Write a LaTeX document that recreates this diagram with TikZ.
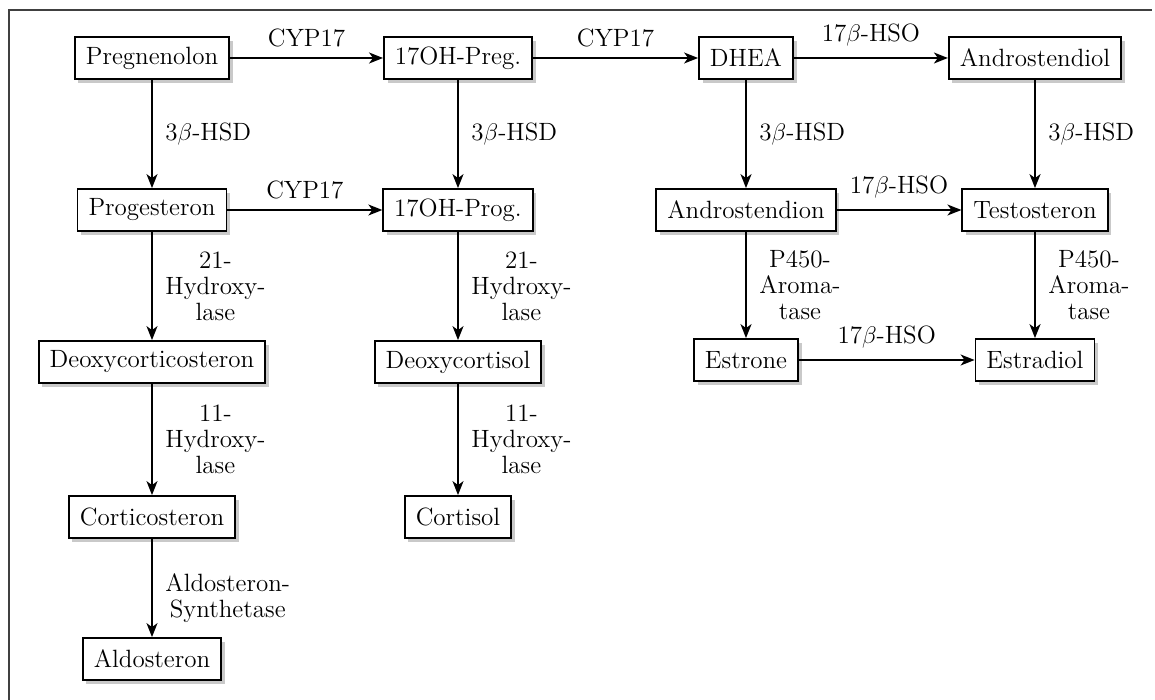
\documentclass[tikz,border=0pt]{standalone}
\usepackage{tikz}
\usetikzlibrary{shadows}
\usetikzlibrary{arrows.meta}
\tikzstyle{mol}=[rectangle,draw,line width=0.9pt,fill=white,inner xsep=5.5pt,minimum height=21pt,drop shadow={shadow xshift=1.8pt,shadow yshift=-1.8pt,opacity=0.3,fill=black!70},font=\fontsize{12.5}{14}\selectfont]
\tikzstyle{edge} = [draw,line width=0.8pt,-{Stealth[length=7pt,width=5.5pt,inset=2pt]}]
\tikzstyle{weight} = [font=\fontsize{12.5}{13}\selectfont,align=center]

\begin{document}
\begin{tikzpicture}[x=0.5pt,y=-0.5pt]

  \useasboundingbox (0,0) rectangle (1155,700);
  \draw[line width=1pt, black!75] (9,700) -- (9,10) -- (1152,10);

   \foreach \x/\y/\name/\label in {152/58/preg/Pregnenolon, 458/58/ohpreg/17OH-Preg., 746/58/dhea/DHEA, 1035/58/adiol/Androstendiol,
      152/210/prog/Progesteron, 458/210/ohprog/17OH-Prog., 746/210/adion/Androstendion, 1035/210/testo/Testosteron,
      152/362/doc/Deoxycorticosteron, 458/362/dcort/Deoxycortisol, 746/360/estrone/Estrone, 1035/360/estradiol/Estradiol,
      152/517/cortico/Corticosteron, 458/517/cortisol/Cortisol, 152/659/aldo/Aldosteron}
          \node[mol] (\name) at (\x,\y) {\label};

  % horizontal steps
  \foreach \source/ \dest /\weight in {preg/ohpreg/CYP17, ohpreg/dhea/CYP17, dhea/adiol/{17$\beta$-HSO},
      prog/ohprog/CYP17, adion/testo/{17$\beta$-HSO}, estrone/estradiol/{17$\beta$-HSO}}
         \path[edge] (\source) -- node[weight,above=2pt] {\weight} (\dest);

  % vertical steps
  \foreach \source/ \dest /\weight in {preg/prog/{3$\beta$-HSD}, ohpreg/ohprog/{3$\beta$-HSD}, dhea/adion/{3$\beta$-HSD}, adiol/testo/{3$\beta$-HSD},
      prog/doc/{21-\\Hydroxy-\\lase}, ohprog/dcort/{21-\\Hydroxy-\\lase},
      adion/estrone/{P450-\\Aroma-\\tase}, testo/estradiol/{P450-\\Aroma-\\tase},
      doc/cortico/{11-\\Hydroxy-\\lase}, dcort/cortisol/{11-\\Hydroxy-\\lase}}
         \path[edge] (\source) -- node[weight,right=3pt] {\weight} (\dest);
  \path[edge] (cortico) -- node[weight,right=3pt,pos=0.6] {Aldosteron-\\Synthetase} (aldo);

\end{tikzpicture}
\end{document}
